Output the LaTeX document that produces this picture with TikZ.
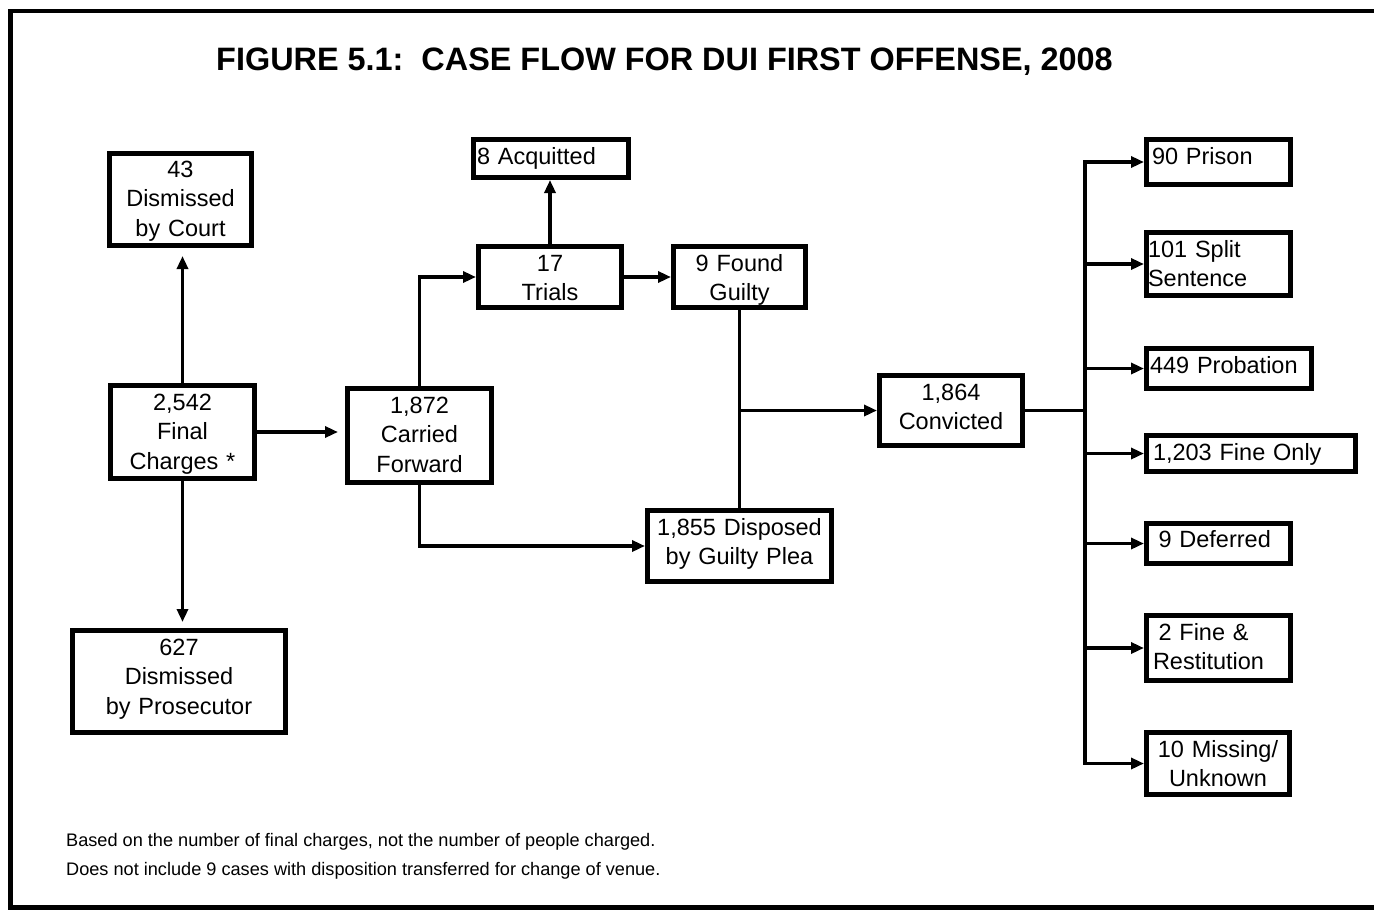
\documentclass[tikz,border=0pt]{standalone}
\usepackage{fontspec}
\setmainfont{Liberation Sans}
\usetikzlibrary{arrows.meta}
\begin{document}
\begin{tikzpicture}[x=1pt,y=-1pt,
  box/.style={draw, line width=5pt, inner ysep=0pt, inner xsep=0pt,
    font=\fontsize{23.5}{29.5}\selectfont, align=center},
  lbox/.style={box, align=left},
  conn/.style={line width=3.5pt, -{Triangle[length=13pt,width=11pt]}},
  plain/.style={line width=3.5pt, line cap=rect},
  frame/.style={line width=4.5pt},
  title/.style={font=\fontsize{32.4}{36}\selectfont\bfseries, anchor=base, inner sep=0pt},
  note/.style={font=\fontsize{18.15}{22}\selectfont, anchor=base west, inner sep=0pt}
]
\useasboundingbox[fill=white] (0,0) rectangle (1374,911);
\draw[frame] (1374,11) -- (10.5,11) -- (10.5,907.5) -- (1374,907.5);

\node[title] (title) at (664.5,70) {FIGURE 5.1:\ \ CASE FLOW FOR DUI FIRST OFFENSE, 2008};

% left column
\node[box, minimum width=142pt, minimum height=92pt, text width=142pt, text height=0pt, text depth=45pt] (court) at (180.5,199.5) {43\\Dismissed\\by Court};
\node[box, minimum width=144pt, minimum height=93pt, text width=144pt, text height=0pt, text depth=44pt] (final) at (182.5,432) {2,542\\Final\\Charges *};
\node[box, minimum width=213pt, minimum height=102pt, text width=213pt, text height=0pt, text depth=53pt] (pros) at (179,681.5) {627\\Dismissed\\by Prosecutor};

% middle
\node[box, minimum width=144pt, minimum height=94pt, text width=144pt, text height=0pt, text depth=45pt] (carried) at (419.5,435.5) {1,872\\Carried\\Forward};
\node[lbox, minimum width=155pt, minimum height=38pt, inner xsep=3.5pt, text width=148pt, text height=11pt, text depth=0pt] (acq) at (551,158.5) {8 Acquitted};
\node[box, minimum width=143pt, minimum height=61pt, text width=143pt, text height=0pt, text depth=12pt] (trials) at (550,277) {17\\Trials};
\node[box, minimum width=132pt, minimum height=61pt, text width=132pt, text height=0pt, text depth=12pt] (guilty) at (739.5,277) {9 Found\\Guilty};
\node[box, minimum width=184pt, minimum height=71pt, text width=184pt, text height=0pt, text depth=22pt] (plea) at (739.5,546) {1,855 Disposed\\by Guilty Plea};
\node[box, minimum width=143pt, minimum height=70pt, text width=143pt, text height=0pt, text depth=21pt] (conv) at (951,410.5) {1,864\\Convicted};

% right column
\node[lbox, minimum width=144pt, minimum height=45pt, inner xsep=5.5pt, text width=133pt, text height=4pt, text depth=0pt] (prison) at (1218.5,162) {90 Prison};
\node[lbox, minimum width=144pt, minimum height=63pt, inner xsep=1.5pt, text width=141pt, text height=0pt, text depth=14pt] (split) at (1218.5,264) {101 Split\\Sentence};
\node[lbox, minimum width=165pt, minimum height=40pt, inner xsep=3.5pt, text width=158pt, text height=9pt, text depth=0pt] (prob) at (1229,368.5) {449 Probation};
\node[lbox, minimum width=209pt, minimum height=36pt, inner xsep=6.5pt, text width=196pt, text height=13pt, text depth=0pt] (fine) at (1251,453.5) {1,203 Fine Only};
\node[lbox, minimum width=144pt, minimum height=40pt, inner xsep=6.5pt, text width=131pt, text height=7pt, text depth=0pt] (def) at (1218.5,543.5) {\hspace*{5.5pt}9 Deferred};
\node[lbox, minimum width=144pt, minimum height=65pt, inner xsep=6.5pt, text width=131pt, text height=0pt, text depth=16pt] (rest) at (1218.5,648) {\hspace*{5.5pt}2 Fine \&\\Restitution};
\node[box, minimum width=143pt, minimum height=62pt, text width=143pt, text height=0pt, text depth=13pt] (miss) at (1218,763.5) {10 Missing/\\Unknown};

% connectors
\draw[conn, shorten >=8pt] (final.north) -- (final.north |- court.south);
\draw[conn, shorten >=6pt] (final.south) -- (final.south |- pros.north);
\draw[conn, shorten >=7pt] (final.east) -- (final.east -| carried.west);
\draw[conn] (carried.north) |- (trials.west);
\draw[conn] (carried.south) |- (plea.west);
\draw[conn] (trials.north) -- (trials.north |- acq.south);
\draw[conn] (trials.east) -- (guilty.west);
\draw[plain] (guilty.south) -- (plea.north);
\coordinate (j1) at (guilty.south |- conv.west);
\draw[conn] (j1) -- (conv.west);
\coordinate (trunk) at (1085,410.5);
\draw[plain] (conv.east) -- (trunk);
\draw[plain] (trunk |- prison.west) -- (trunk |- miss.west);
\draw[conn] (trunk |- prison.west) -- (prison.west);
\draw[conn] (trunk |- split.west) -- (split.west);
\draw[conn] (trunk |- prob.west) -- (prob.west);
\draw[conn] (trunk |- fine.west) -- (fine.west);
\draw[conn] (trunk |- def.west) -- (def.west);
\draw[conn] (trunk |- rest.west) -- (rest.west);
\draw[conn] (trunk |- miss.west) -- (miss.west);

% notes
\node[note] (note1) at (66,846) {Based on the number of final charges, not the number of people charged.};
\node[note] (note2) at (66,875) {Does not include 9 cases with disposition transferred for change of venue.};
\end{tikzpicture}
\end{document}
